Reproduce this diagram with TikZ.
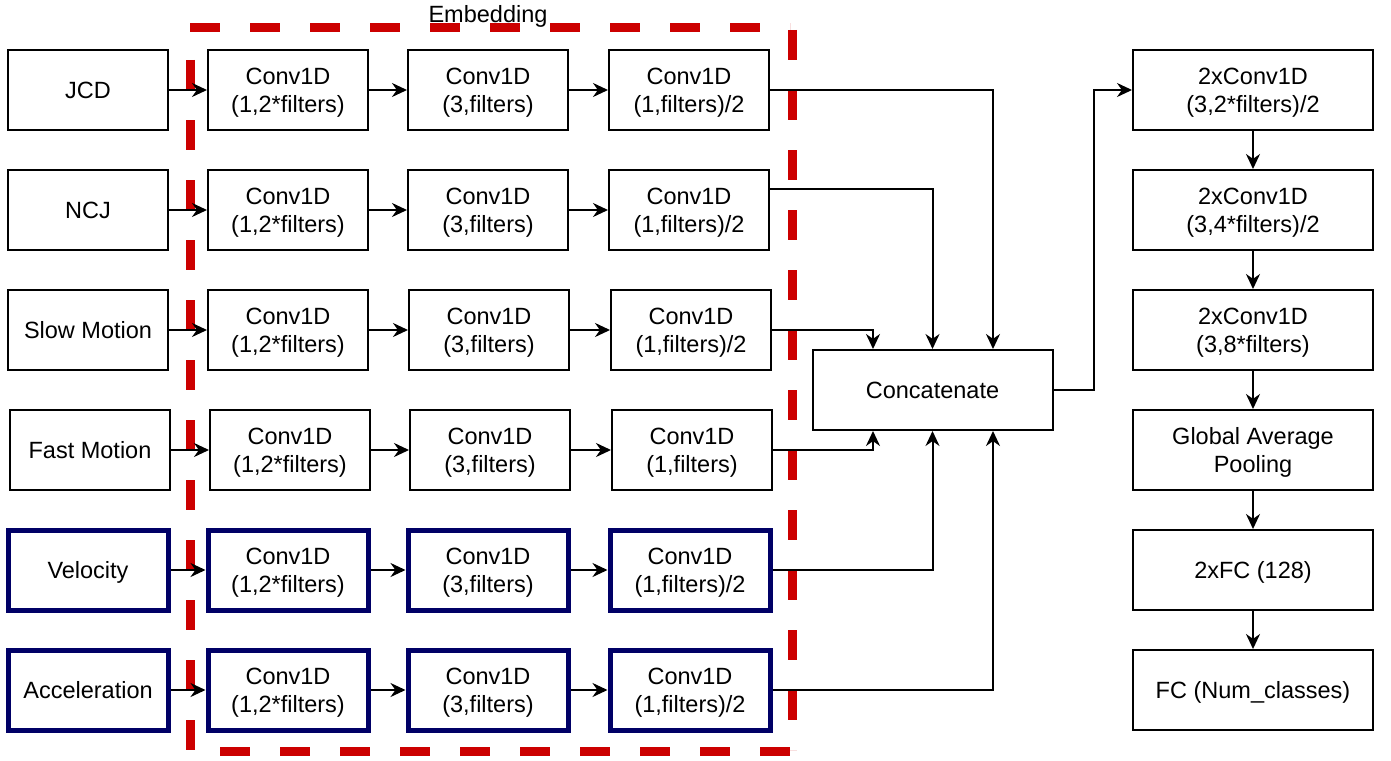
\documentclass[tikz,border=0pt]{standalone}
\usepackage{fontspec}
\setmainfont{Liberation Sans}
\usetikzlibrary{arrows.meta}
\definecolor{navyblue}{RGB}{0,0,102}
\definecolor{embred}{RGB}{204,0,0}
\tikzset{
    block/.style={draw, line width=2pt, fill=white, minimum width=160pt, minimum height=80pt,
        inner sep=0pt, text depth=0pt, align=center, font=\fontsize{23.5pt}{28pt}\selectfont},
    wideblock/.style={block, minimum width=240pt},
    navyblock/.style={block, draw=navyblue, line width=5pt},
    flow/.style={->, line width=2pt},
    embline/.style={embred, line width=9pt, dash pattern=on 30pt off 30pt},
    >={Stealth[length=15pt,width=14pt]}
}

\begin{document}
\begin{tikzpicture}[x=1pt,y=-1pt]
    \fill[white] (0,0) rectangle (1391,760);
    \useasboundingbox (0,0) rectangle (1391,760);
    %Embedding
    \node[anchor=base, font=\fontsize{23.5pt}{28pt}\selectfont] (emblabel) at (488,23) {Embedding};
    \draw[embline] (190,28) -- (790,28);
    \draw[embline, dash phase=58pt] (792,28) -- (792,750);
    \draw[embline, dash phase=30pt] (190,751) -- (790,751);
    \draw[embline] (190,60) -- (190,751);
    %JCD
    \node[block] (jcd) at (88,90) {JCD};
    \node[block] (jcd1) at (288,90) {Conv1D\\(1,2*filters)};
    \node[block] (jcd2) at (488,90) {Conv1D\\(3,filters)};
    \node[block] (jcd3) at (689,90) {Conv1D\\(1,filters)/2};
    %NCJ
    \node[block] (ncj) at (88,210) {NCJ};
    \node[block] (ncj1) at (288,210) {Conv1D\\(1,2*filters)};
    \node[block] (ncj2) at (488,210) {Conv1D\\(3,filters)};
    \node[block] (ncj3) at (689,210) {Conv1D\\(1,filters)/2};
    %Slow Motion
    \node[block] (slow) at (88,330) {Slow Motion};
    \node[block] (slow1) at (288,330) {Conv1D\\(1,2*filters)};
    \node[block] (slow2) at (489,330) {Conv1D\\(3,filters)};
    \node[block] (slow3) at (691,330) {Conv1D\\(1,filters)/2};
    %Fast Motion
    \node[block] (fast) at (90,450) {Fast Motion};
    \node[block] (fast1) at (290,450) {Conv1D\\(1,2*filters)};
    \node[block] (fast2) at (490,450) {Conv1D\\(3,filters)};
    \node[block] (fast3) at (692,450) {Conv1D\\(1,filters)};
    %Velocity
    \node[navyblock] (vel) at (88,570) {Velocity};
    \node[navyblock] (vel1) at (288,570) {Conv1D\\(1,2*filters)};
    \node[navyblock] (vel2) at (488,570) {Conv1D\\(3,filters)};
    \node[navyblock] (vel3) at (690,570) {Conv1D\\(1,filters)/2};
    %Acceleration
    \node[navyblock] (acc) at (88,690) {Acceleration};
    \node[navyblock] (acc1) at (288,690) {Conv1D\\(1,2*filters)};
    \node[navyblock] (acc2) at (488,690) {Conv1D\\(3,filters)};
    \node[navyblock] (acc3) at (690,690) {Conv1D\\(1,filters)/2};
    %Concatenate
    \node[wideblock] (concat) at (932.5,390) {Concatenate};
    %Head
    \node[wideblock] (head1) at (1253,90) {2xConv1D\\(3,2*filters)/2};
    \node[wideblock] (head2) at (1253,210) {2xConv1D\\(3,4*filters)/2};
    \node[wideblock] (head3) at (1253,330) {2xConv1D\\(3,8*filters)};
    \node[wideblock] (gap) at (1253,450) {Global Average\\Pooling};
    \node[wideblock] (fc1) at (1253,570) {2xFC (128)};
    \node[wideblock] (fc2) at (1253,690) {FC (Num\_classes)};
    %Branches
    \draw[flow] (jcd) -- (jcd1);
    \draw[flow] (jcd1) -- (jcd2);
    \draw[flow] (jcd2) -- (jcd3);
    \draw[flow] (ncj) -- (ncj1);
    \draw[flow] (ncj1) -- (ncj2);
    \draw[flow] (ncj2) -- (ncj3);
    \draw[flow] (slow) -- (slow1);
    \draw[flow] (slow1) -- (slow2);
    \draw[flow] (slow2) -- (slow3);
    \draw[flow] (fast) -- (fast1);
    \draw[flow] (fast1) -- (fast2);
    \draw[flow] (fast2) -- (fast3);
    \draw[flow] (vel) -- (vel1);
    \draw[flow] (vel1) -- (vel2);
    \draw[flow] (vel2) -- (vel3);
    \draw[flow] (acc) -- (acc1);
    \draw[flow] (acc1) -- (acc2);
    \draw[flow] (acc2) -- (acc3);
    %Into Concatenate
    \draw[flow] (jcd3.east) -| ([xshift=60.5pt]concat.north);
    \draw[flow] ([yshift=21pt]ncj3.east) -| (concat.north);
    \draw[flow] (slow3.east) -| ([xshift=-59.5pt]concat.north);
    \draw[flow] (fast3.east) -| ([xshift=-59.5pt]concat.south);
    \draw[flow] (vel3.east) -| (concat.south);
    \draw[flow] (acc3.east) -| ([xshift=60.5pt]concat.south);
    %Head
    \draw[flow] (concat.east) -- ++(40,0) |- (head1.west);
    \draw[flow] (head1) -- (head2);
    \draw[flow] (head2) -- (head3);
    \draw[flow] (head3) -- (gap);
    \draw[flow] (gap) -- (fc1);
    \draw[flow] (fc1) -- (fc2);
\end{tikzpicture}
\end{document}
